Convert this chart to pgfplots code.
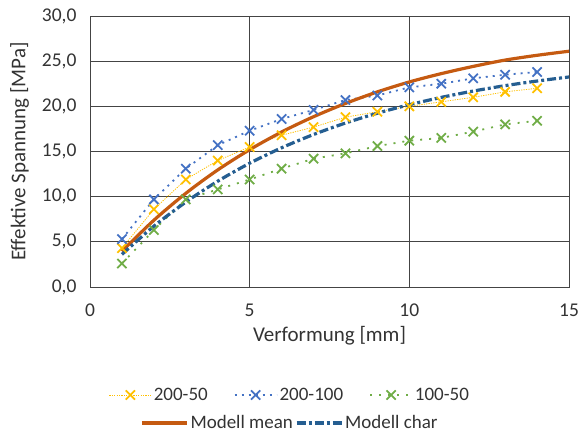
\documentclass[border=0pt]{standalone}
\usepackage{pgfplots}
\pgfplotsset{compat=1.18}
\usepackage{fontspec}
\setmainfont{Carlito}

\definecolor{cYellow}{HTML}{FFC000}
\definecolor{cBlue}{HTML}{4472C4}
\definecolor{cGreen}{HTML}{70AD47}
\definecolor{cBrown}{HTML}{C55A11}
\definecolor{cNavy}{HTML}{255E91}
\definecolor{cText}{HTML}{333333}
\definecolor{cGrid}{HTML}{444444}

\pgfplotsset{
  basestyle/.style={
    scale only axis, width=479pt, height=271pt,
    xmin=0, xmax=15, ymin=0, ymax=30,
    at={(90pt,149pt)}, anchor=south west,
  },
  legendfont/.style={font=\fontsize{19}{22}\selectfont, text=cText},
}

\begin{document}
\begin{tikzpicture}
\useasboundingbox (0,0) rectangle (580pt,436pt);
\begin{axis}[
  basestyle,
  xtick={0,5,10,15}, ytick={0,5,...,30},
  major tick length=0pt,
  grid=major,
  major grid style={cGrid, line width=0.9pt},
  axis line style={cGrid, line width=0.9pt},
  tick label style={font=\fontsize{19.5}{22}\selectfont, text=cText},
  /pgf/number format/assume math mode=true,
  yticklabel style={/pgf/number format/fixed, /pgf/number format/fixed zerofill,
    /pgf/number format/precision=1, /pgf/number format/use comma, xshift=-10pt},
  xticklabel style={/pgf/number format/fixed, /pgf/number format/precision=0, yshift=-13pt},
  xlabel={Verformung [mm]},
  ylabel={Effektive Spannung [MPa]},
  label style={font=\fontsize{21}{24}\selectfont, text=cText},
  xlabel style={yshift=-3pt},
  ylabel style={yshift=6pt},
  legend columns=3,
  legend style={draw=none, fill=none, at={(0.4175,-0.3985)}, anchor=center,
    legendfont,
    /tikz/every even column/.append style={column sep=24pt}},
  legend image code/.code={
    \draw[#1, mark=none] (0pt,0pt) -- (42pt,0pt);
    \draw[#1, only marks] plot coordinates {(21pt,0pt)};
  },
]
% measured series
\addplot[cYellow, line width=0.8pt, dash pattern=on 1.2pt off 1.2pt,
  mark=x, mark size=6.5pt, mark options={solid, line width=1.8pt}] coordinates {
  (1,4.3) (2,8.6) (3,11.9) (4,14.0) (5,15.5) (6,16.8) (7,17.7)
  (8,18.8) (9,19.4) (10,20.0) (11,20.5) (12,21.0) (13,21.6) (14,22.0)};
\addlegendentry{200-50}
\addplot[cBlue, line width=1.8pt, dash pattern=on 2pt off 5pt,
  mark=x, mark size=6.5pt, mark options={solid, line width=1.8pt}] coordinates {
  (1,5.3) (2,9.7) (3,13.1) (4,15.7) (5,17.3) (6,18.6) (7,19.6)
  (8,20.7) (9,21.2) (10,22.1) (11,22.5) (12,23.1) (13,23.5) (14,23.8)};
\addlegendentry{200-100}
\addplot[cGreen, line width=1.8pt, dash pattern=on 2pt off 7pt,
  mark=x, mark size=6.5pt, mark options={solid, line width=1.8pt}] coordinates {
  (1,2.6) (2,6.3) (3,9.7) (4,10.8) (5,11.9) (6,13.1) (7,14.2)
  (8,14.8) (9,15.6) (10,16.2) (11,16.5) (12,17.2) (13,18.0) (14,18.4)};
\addlegendentry{100-50}
% model curves
\addplot[cBrown, line width=3.2pt, smooth, forget plot] coordinates {
  (1,3.96) (2,7.39) (3,10.37) (4,12.96) (5,15.2) (6,17.16) (7,18.85)
  (8,20.32) (9,21.6) (10,22.7) (11,23.62) (12,24.42) (13,25.12)
  (14,25.65) (15,26.1)};
\addplot[cNavy, line width=3.2pt, smooth, forget plot,
  dash pattern=on 9pt off 3pt on 3pt off 3pt] coordinates {
  (1,3.61) (2,6.73) (3,9.40) (4,11.71) (5,13.70) (6,15.41) (7,16.88)
  (8,18.15) (9,19.24) (10,20.18) (11,20.99) (12,21.69) (13,22.29)
  (14,22.80) (15,23.25)};
\end{axis}
% second legend row for the model curves
\begin{axis}[
  basestyle, hide axis,
  legend columns=2,
  legend style={draw=none, fill=none, at={(0.4175,-0.502)}, anchor=center,
    legendfont,
    /tikz/every even column/.append style={column sep=0pt}},
  legend image code/.code={\draw[#1] (0pt,0pt) -- (45pt,0pt);},
]
\addlegendimage{cBrown, line width=3.2pt}
\addlegendentry{Modell mean}
\addlegendimage{cNavy, line width=3.2pt, dash pattern=on 9pt off 3pt on 3pt off 3pt}
\addlegendentry{Modell char}
\end{axis}
\end{tikzpicture}
\end{document}
